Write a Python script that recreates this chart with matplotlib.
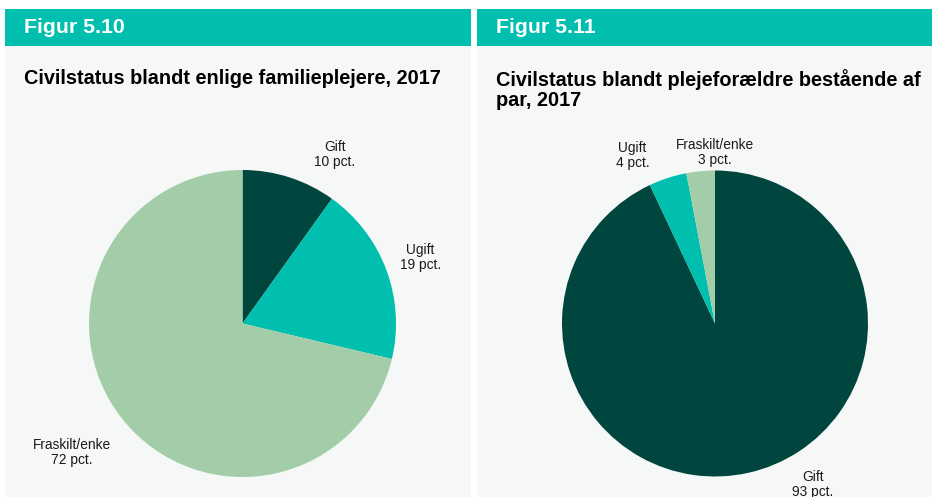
import matplotlib.pyplot as plt
from matplotlib.patches import Rectangle

# Civilstatus data, 2017
status_enlige = ["Gift", "Ugift", "Fraskilt/enke"]
pct_enlige = [10, 19, 72]

status_par = ["Gift", "Ugift", "Fraskilt/enke"]
pct_par = [93, 4, 3]

dark = "#00463f"
teal = "#00bfae"
light = "#a3cda8"
panel_bg = "#f6f8f8"

W, H = 932, 497
fig = plt.figure(figsize=(W / 100, H / 100), dpi=100)
fig.patch.set_facecolor("white")
plt.rcParams["font.family"] = ["Liberation Sans", "DejaVu Sans"]


def px_rect(x0, y0, x1, y1, color):
    # rectangle given in pixels measured from the top-left corner
    fig.patches.append(Rectangle((x0 / W, 1 - y1 / H), (x1 - x0) / W, (y1 - y0) / H,
                                 transform=fig.transFigure, facecolor=color,
                                 edgecolor="none", zorder=-1))


def panel(x0, x1, fig_title, title):
    px_rect(x0, 45.5, x1, H, panel_bg)
    px_rect(x0, 9, x1, 45.5, teal)
    fig.text((x0 + 19) / W, 1 - 27.5 / H, fig_title, color="white",
             fontsize=15.3, fontweight="bold", va="center", ha="left")
    fig.text((x0 + 19) / W, 1 - 69 / H, title, color="black",
             fontsize=14.3, fontweight="bold", va="top", ha="left",
             linespacing=1.1)


def pie_panel(cx, cy, r, values, labels, label_pos):
    span = 3.0
    size = span * r
    ax = fig.add_axes([(cx - size / 2) / W, (H - cy - size / 2) / H, size / W, size / H])
    ax.set_zorder(1)
    ax.patch.set_visible(False)
    ax.pie(values, colors=[dark, teal, light], startangle=90, counterclock=False,
           radius=1, wedgeprops=dict(linewidth=0))
    ax.set_xlim(-span / 2, span / 2)
    ax.set_ylim(-span / 2, span / 2)
    ax.axis("off")
    for lab, v, (x, y) in zip(labels, values, label_pos):
        ax.text(x, y, f"{lab}\n{v} pct.", ha="center", va="center",
                fontsize=9.9, color="#1a1a1a", linespacing=1.1)


panel(5, 471, "Figur 5.10", "Civilstatus blandt enlige familieplejere, 2017")
panel(477, W, "Figur 5.11", "Civilstatus blandt plejeforældre bestående af\npar, 2017")

pie_panel(242.5, 323.5, 153.5, pct_enlige, status_enlige,
          [(0.60, 1.10), (1.16, 0.43), (-1.11, -0.84)])
pie_panel(715, 323.5, 153, pct_par, status_par,
          [(0.64, -1.05), (-0.54, 1.10), (0.0, 1.12)])

fig.savefig("out.png", dpi=100)
